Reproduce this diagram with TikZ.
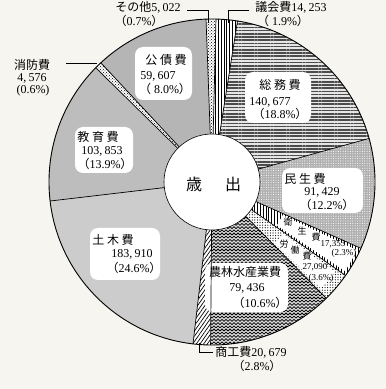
\documentclass[tikz,border=0pt]{standalone}
\usepackage{fontspec}
\setmainfont{Liberation Serif}
\newfontfamily\jpf{Noto Sans CJK JP}
\usetikzlibrary{patterns,patterns.meta}
\definecolor{paper}{RGB}{247,245,239}
\newcommand\jcm{,\hspace{2.5pt}}
\newcommand\jlp{{\jpf （}}
\newcommand\jrp{{\jpf ）}}
\newcommand\pieslice[3]{\path[#3] (0,0) -- (#1:163) arc[start angle=#1,end angle=#2,radius=163] -- cycle;}
\pgfdeclarepatternformonly{zigzag}{\pgfqpoint{-1pt}{-1pt}}{\pgfqpoint{5pt}{4.2pt}}{\pgfqpoint{4pt}{3.2pt}}{%
  \pgfsetlinewidth{0.75pt}%
  \pgfpathmoveto{\pgfqpoint{0pt}{0.4pt}}%
  \pgfpathlineto{\pgfqpoint{2pt}{2.4pt}}%
  \pgfpathlineto{\pgfqpoint{4pt}{0.4pt}}%
  \pgfusepath{stroke}}
\begin{document}
\begin{tikzpicture}[x=1pt,y=1pt,
  lbl/.style={inner sep=0pt, font=\fontsize{12}{13}\selectfont},
  slbl/.style={inner sep=0pt, font=\fontsize{9}{10}\selectfont},
  big/.style={inner sep=0pt, font=\jpf\fontsize{16}{18}\selectfont},
  blob/.style={fill=white, rounded corners=8pt},
  leader/.style={line width=0.6pt},
  gikaiS/.style={preaction={fill=white}, pattern={Lines[angle=90,distance=2.8pt,line width=0.9pt]}, pattern color=black},
  soumuS/.style={preaction={fill=gray!20}, pattern={Lines[angle=0,distance=3.2pt,line width=1.6pt]}, pattern color=gray!60!black},
  minseiS/.style={preaction={fill=gray!62}, pattern={Dots[radius=0.55pt,distance=2.4pt]}, pattern color=white},
  roudouS/.style={preaction={fill=white}, pattern={Dots[radius=0.6pt,distance=2.6pt]}, pattern color=black},
  nourinS/.style={preaction={fill=gray!30}, pattern=zigzag, pattern color=black},
  shokoS/.style={preaction={fill=white}, pattern={Lines[angle=55,distance=3pt,line width=0.7pt]}, pattern color=black},
  dobokuS/.style={fill=gray!40},
  kyouikuS/.style={fill=gray!52},
  kousaiS/.style={fill=gray!58},
  chainS/.style={preaction={fill=white}, pattern=crosshatch dots, pattern color=black}
]
\fill[paper] (0,0) rectangle (386,389);
\useasboundingbox (0,0) rectangle (386,389);
\begin{scope}[shift={(212,207)}]
  \pieslice{81}{88.6}{gikaiS}
  \pieslice{15.5}{81}{soumuS}
  \pieslice{-24}{15.5}{minseiS}
  \pieslice{-35}{-24}{gikaiS}
  \pieslice{-45.5}{-35}{roudouS}
  \pieslice{-90.5}{-45.5}{nourinS}
  \pieslice{-96.7}{-90.5}{shokoS}
  \pieslice{-173.3}{-96.7}{dobokuS}
  \pieslice{135.5}{186.7}{kyouikuS}
  \pieslice{133}{135.5}{chainS}
  \pieslice{92.1}{133}{kousaiS}
  \pieslice{88.6}{92.1}{chainS}
  % white label areas inside the narrow slices
  \fill[white] (-33.8:78) arc[start angle=-33.8,end angle=-25.2,radius=78] -- (-25.2:160) arc[start angle=-25.2,end angle=-33.8,radius=160] -- cycle;
  \fill[white] (-44.3:88) arc[start angle=-44.3,end angle=-36.2,radius=88] -- (-36.2:152) arc[start angle=-36.2,end angle=-44.3,radius=152] -- cycle;
\end{scope}
% white label blobs
\fill[blob] (135,289) rectangle (192,342);
\fill[blob] (245,266) rectangle (311,317);
\fill[blob] (282,176) rectangle (363,221);
\fill[blob] (75,216) rectangle (133,262);
\fill[blob] (90,109) rectangle (160,161);
\fill[blob] (205,77) rectangle (288,126);
\begin{scope}[shift={(212,207)}]
  \foreach \a in {88.6,81,15.5,-24,-35,-45.5,-90.5,-96.7,-173.3,135.5,133,92.1}
    \draw[line width=0.7pt] (0,0) -- (\a:163);
  \draw[line width=0.9pt] (0,0) circle[radius=163];
  \draw[fill=white, line width=0.6pt] (0,0) circle[radius=48];
\end{scope}
% centre
\node[big] (sai) at (194,205) {歳};
\node[big] (shutsu) at (233,205) {出};
% labels
\node[lbl] (sonota1) at (148,382) {{\jpf その他}5\jcm 022};
\node[lbl] (sonota2) at (139,368.5) {\jlp 0.7\%\jrp};
\node[lbl] (gikai1) at (291,382) {{\jpf 議会費}14\jcm 253};
\node[lbl] (gikai2) at (283,368.5) {\jlp\ 1.9\%\jrp};
\node[lbl] (shoubou1) at (32,324) {\jpf 消防費};
\node[lbl] (shoubou2) at (32,311) {4\jcm 576};
\node[lbl] (shoubou3) at (33,298) {(0.6\%)};
\node[lbl] (kousai1) at (166,329) {\jpf 公 債 費};
\node[lbl] (kousai2) at (158,313) {59\jcm 607};
\node[lbl] (kousai3) at (165,300) {\jlp\ 8.0\%\jrp};
\node[lbl] (soumu1) at (280,304) {\jpf 総 務 費};
\node[lbl] (soumu2) at (270,287) {140\jcm 677};
\node[lbl] (soumu3) at (280,275) {\jlp 18.8\%\jrp};
\node[lbl] (minsei1) at (305,210) {\jpf 民 生 費};
\node[lbl] (minsei2) at (322,197) {91\jcm 429};
\node[lbl] (minsei3) at (327,184) {\jlp 12.2\%\jrp};
\node[slbl] (eisei1) at (288,167) {\jpf 衛};
\node[slbl] (eisei2) at (302,158) {\jpf 生};
\node[slbl] (eisei3) at (316,152) {\jpf 費};
\node[slbl] (eisei4) at (333,145) {17,353};
\node[slbl] (eisei5) at (344,135.5) {(2.3\%)};
\node[slbl] (roudou1) at (284,145) {\jpf 労};
\node[slbl] (roudou2) at (295,139) {\jpf 働};
\node[slbl] (roudou3) at (307,133) {\jpf 費};
\node[slbl] (roudou4) at (315,122) {27,090};
\node[slbl] (roudou5) at (321,111) {(3.6\%)};
\node[lbl] (nourin1) at (245,117) {\jpf 農林水産業費};
\node[lbl] (nourin2) at (247,101) {79\jcm 436};
\node[lbl] (nourin3) at (260,86) {\jlp 10.6\%\jrp};
\node[lbl] (shoko1) at (251,37) {{\jpf 商工費}20\jcm 679};
\node[lbl] (shoko2) at (257,23) {\jlp 2.8\%\jrp};
\node[lbl] (doboku1) at (113,149) {\jpf 土 木 費};
\node[lbl] (doboku2) at (132,135) {183\jcm 910};
\node[lbl] (doboku3) at (134,121) {\jlp 24.6\%\jrp};
\node[lbl] (kyouiku1) at (98,252) {\jpf 教 育 費};
\node[lbl] (kyouiku2) at (102,238) {103\jcm 853};
\node[lbl] (kyouiku3) at (105,225) {\jlp 13.9\%\jrp};
% leaders
\coordinate (sonotaA) at (187,379);
\coordinate (sonotaB) at (208,366);
\draw[leader] (sonotaA) -| (sonotaB);
\coordinate (gikaiA) at (249,379);
\coordinate (gikaiB) at (228,366);
\draw[leader] (gikaiA) -| (gikaiB);
\coordinate (shoubouA) at (66,326);
\coordinate (shoubouB) at (97,326);
\draw[leader] (shoubouA) -- (shoubouB);
\coordinate (shokoA) at (199,46);
\coordinate (shokoB) at (213,37);
\draw[leader] (shokoA) |- (shokoB);
\end{tikzpicture}
\end{document}
